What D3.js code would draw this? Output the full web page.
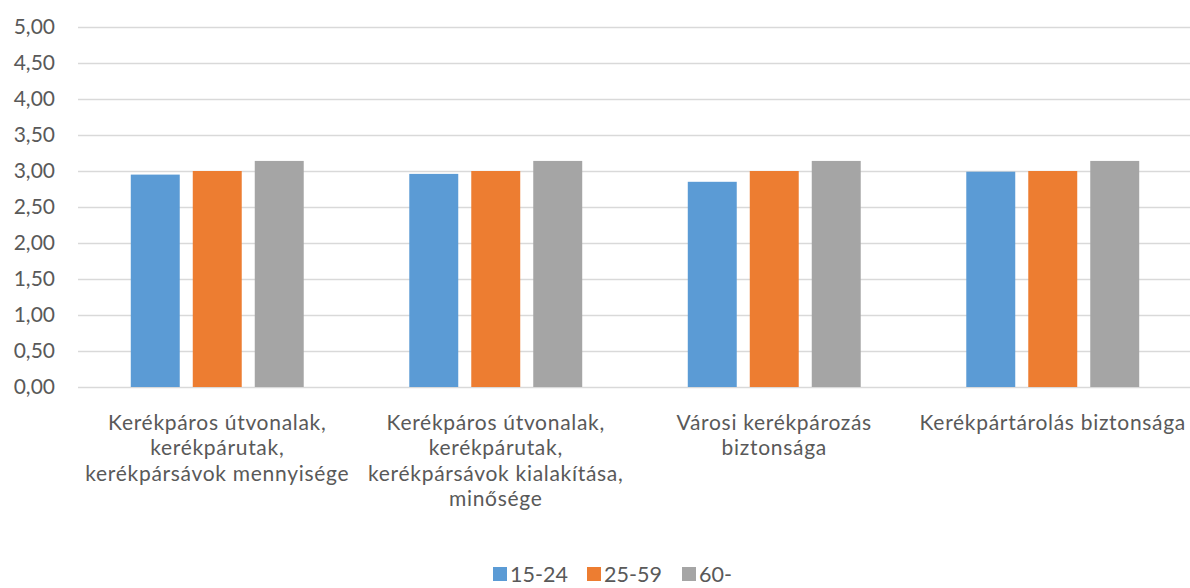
<!DOCTYPE html>
<html>
<head>
<meta charset="utf-8">
<script src="https://cdn.jsdelivr.net/npm/d3@7/dist/d3.min.js"></script>
<style>
  html, body { margin: 0; padding: 0; background: #fff; }
  svg { display: block; }
  text { font-family: Lato, "Open Sans", sans-serif; fill: #595959; }
</style>
</head>
<body>
<svg id="chart" width="1190" height="588"></svg>
<script>
// Category labels, one entry per line of the wrapped label
const categories = [
  "Kerékpáros útvonalak, kerékpárutak, kerékpársávok mennyisége",
  "Kerékpáros útvonalak, kerékpárutak, kerékpársávok kialakítása, minősége",
  "Városi kerékpározás biztonsága",
  "Kerékpártárolás biztonsága"
];
const categoryLines = [
  ["Kerékpáros útvonalak,", "kerékpárutak,", "kerékpársávok mennyisége"],
  ["Kerékpáros útvonalak,", "kerékpárutak,", "kerékpársávok kialakítása,", "minősége"],
  ["Városi kerékpározás", "biztonsága"],
  ["Kerékpártárolás biztonsága"]
];
const seriesNames = ["15-24", "25-59", "60-"];
const values1524 = [2.95, 2.96, 2.85, 2.99];
const values2559 = [3.00, 3.00, 3.00, 3.00];
const values60 = [3.14, 3.14, 3.14, 3.14];
const yTicks = [0, 0.5, 1, 1.5, 2, 2.5, 3, 3.5, 4, 4.5, 5];
const colors = ["#5B9BD5", "#ED7D31", "#A5A5A5"];

const seriesValues = [values1524, values2559, values60];
const rows = categories.map((c, i) => ({
  cat: c,
  vals: seriesNames.map((s, j) => ({ key: s, value: seriesValues[j][i] }))
}));

const svg = d3.select("#chart");
const plotLeft = 78, plotRight = 1192, plotTop = 27, plotBottom = 387;

const y = d3.scaleLinear().domain([0, 5]).range([plotBottom, plotTop]);
const x0 = d3.scaleBand().domain(categories).range([plotLeft, plotRight])
  .paddingInner(0.379).paddingOuter(0.1895);
const x1 = d3.scaleBand().domain(seriesNames).range([0, x0.bandwidth()])
  .paddingInner(0.21).paddingOuter(0);
const color = d3.scaleOrdinal().domain(seriesNames).range(colors);

// Horizontal gridlines with tick labels
const yAxis = d3.axisLeft(y).tickValues(yTicks)
  .tickSize(-(plotRight - plotLeft)).tickPadding(23)
  .tickFormat(d => d.toFixed(2).replace(".", ","));
const gy = svg.append("g").attr("transform", `translate(${plotLeft},0)`).call(yAxis);
gy.select(".domain").remove();
gy.selectAll(".tick line").attr("stroke", "#D9D9D9").attr("stroke-width", 1.5);
gy.selectAll(".tick text").attr("font-size", 21).attr("fill", "#595959")
  .style("font-family", "Lato, 'Open Sans', sans-serif");

// Clustered bars
const groups = svg.append("g").selectAll("g").data(rows).join("g")
  .attr("transform", d => `translate(${x0(d.cat)},0)`);
groups.selectAll("rect").data(d => d.vals).join("rect")
  .attr("x", d => x1(d.key))
  .attr("width", x1.bandwidth())
  .attr("y", d => y(d.value))
  .attr("height", d => y(0) - y(d.value))
  .attr("fill", d => color(d.key));

// Category labels beneath the axis, one text element per wrapped line
const xAxis = d3.axisBottom(x0).tickSize(0);
const gx = svg.append("g").attr("transform", `translate(0,${plotBottom})`).call(xAxis);
gx.select(".domain").remove();
gx.selectAll(".tick text").remove();
gx.selectAll(".tick line").remove();
gx.selectAll(".tick").each(function(d, i) {
  d3.select(this).selectAll("text.cat-line").data(categoryLines[i]).join("text")
    .attr("class", "cat-line")
    .attr("text-anchor", "middle").attr("font-size", 21)
    .attr("letter-spacing", 0.7)
    .attr("fill", "#595959")
    .attr("x", 0).attr("y", (line, k) => 43 + k * 25.3)
    .text(line => line);
});

// Legend
const legend = svg.append("g").attr("transform", "translate(493,574)");
const legendStep = [0, 94, 189];
seriesNames.forEach((s, i) => {
  const g = legend.append("g").attr("transform", `translate(${legendStep[i]},0)`);
  g.append("rect").attr("x", 0).attr("y", -7).attr("width", 14).attr("height", 14).attr("fill", color(s));
  g.append("text").attr("x", 17).attr("y", 7.5).attr("font-size", 21.5).text(s);
});
</script>
</body>
</html>
